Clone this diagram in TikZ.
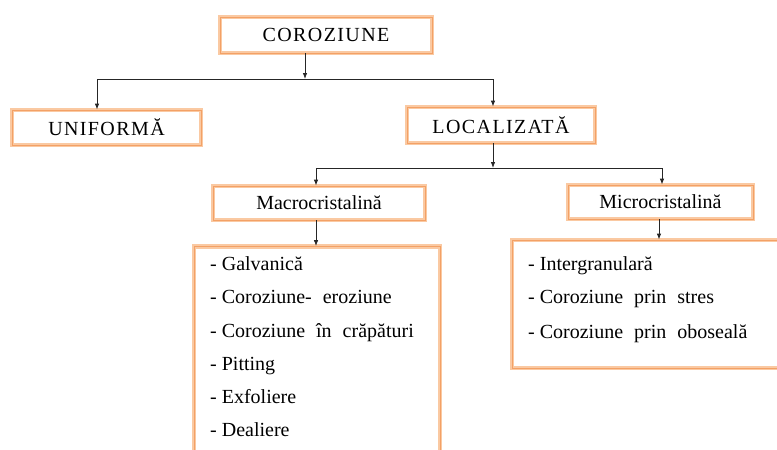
\documentclass[tikz,border=0pt]{standalone}
\usepackage{fontspec}
\setmainfont{Liberation Serif}
\newfontfamily\tnr{Liberation Serif}
\newfontfamily\tnrcaps[LetterSpace=7]{Liberation Serif}
\usetikzlibrary{arrows.meta}
\definecolor{orlight}{HTML}{FAC9A2}
\definecolor{ordark}{HTML}{F3A166}
\tikzset{
  obox/.style={draw=ordark, line width=0.8pt, preaction={draw=orlight, line width=4.6pt},
    inner sep=0pt, font=\tnr\fontsize{20}{22}\selectfont, text=black},
  capbox/.style={obox, font=\tnrcaps\fontsize{20}{22}\selectfont},
  itm/.style={anchor=base west, inner sep=0pt, font=\tnr\fontsize{20}{22}\selectfont, text=black},
  arr/.style={-{Latex[length=6pt,width=4.5pt]}, line width=0.8pt, black!85},
  ln/.style={line width=0.8pt, black!85}
}
\newcommand{\wsp}{\hspace{11pt}}
\begin{document}
\begin{tikzpicture}[x=1pt,y=-1pt]
\useasboundingbox (0,0) rectangle (777,450);
\clip (0,0) rectangle (777,450);
% boxes
\node[capbox, minimum width=212pt, minimum height=36pt] (coro) at (326,35) {COROZIUNE};
\node[capbox, minimum width=189pt, minimum height=35pt] (unif) at (106.5,127.5) {UNIFORMĂ};
\node[capbox, minimum width=188pt, minimum height=36pt] (loc) at (501,125) {LOCALIZATĂ};
\node[obox, minimum width=212pt, minimum height=34pt] (macro) at (319,203) {Macrocristalină};
\node[obox, minimum width=185pt, minimum height=34pt] (micro) at (660.5,202) {Microcristalină};
\node[obox, minimum width=246pt, minimum height=225pt] (macrol) at (317,359) {};
\node[obox, minimum width=290pt, minimum height=128pt] (microl) at (657,304) {};
% items macro
\node[itm] (g1) at (210,270) {- Galvanică};
\node[itm] (g2) at (210,303.5) {- Coroziune-\wsp eroziune};
\node[itm] (g3) at (210,337) {- Coroziune\wsp în\wsp crăpături};
\node[itm] (g4) at (210,370) {- Pitting};
\node[itm] (g5) at (210,403) {- Exfoliere};
\node[itm] (g6) at (210,436) {- Dealiere};
% items micro
\node[itm] (h1) at (528,270) {- Intergranulară};
\node[itm] (h2) at (528,303.5) {- Coroziune\wsp prin\wsp stres};
\node[itm] (h3) at (528,338) {- Coroziune\wsp prin\wsp oboseală};
% connectors
\coordinate (a0) at (305,79);
\coordinate (a1) at (97,79);
\coordinate (a2) at (493,79);
\draw[arr] (coro.south -| a0) -- (a0);
\draw[ln] (a1) -- (a2);
\draw[arr] (a1) -- (unif.north -| a1);
\draw[arr] (a2) -- (loc.north -| a2);
\coordinate (b0) at (493,168);
\coordinate (b1) at (316,168);
\coordinate (b2) at (662,168);
\draw[arr] (loc.south -| b0) -- (b0);
\draw[ln] (b1) -- (b2);
\draw[arr] (b1) -- (macro.north -| b1);
\draw[arr] (b2) -- (micro.north -| b2);
\coordinate (c1) at (316,0);
\coordinate (c2) at (659,0);
\draw[arr] (macro.south -| c1) -- (macrol.north -| c1);
\draw[arr] (micro.south -| c2) -- (microl.north -| c2);
\end{tikzpicture}
\end{document}
